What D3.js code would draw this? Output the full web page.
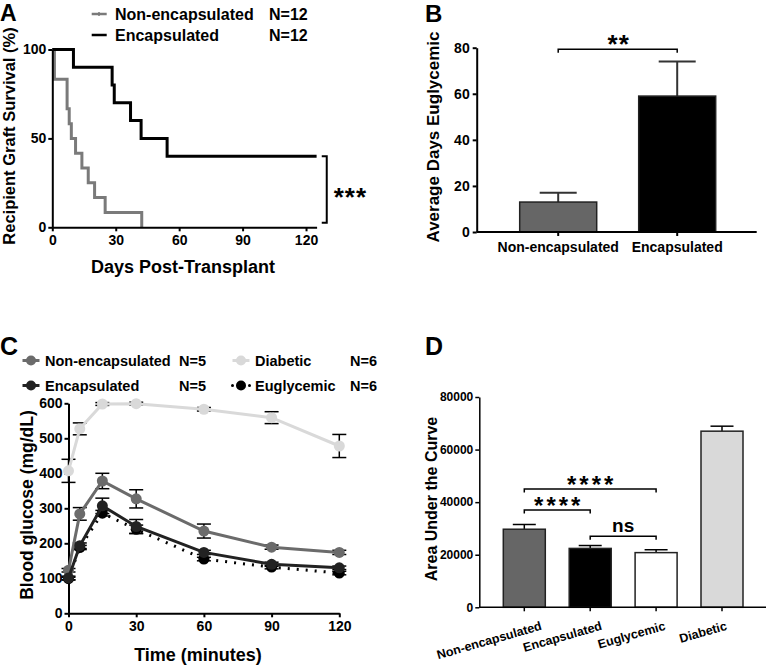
<!DOCTYPE html>
<html><head><meta charset="utf-8">
<script src="https://cdn.jsdelivr.net/npm/d3@7"></script>
<style>
body{margin:0;background:#fff;}
svg text{font-family:"Liberation Sans",Arial,Helvetica,sans-serif;font-weight:bold;fill:#000;}
</style></head><body>
<svg id="c" width="766" height="665"></svg>
<script>
// ---------- Panel A: survival ----------
const survNonEncDays = [0,1,7,8,9,11,14,17,20,25,42.3];
const survNonEncPct  = [100,83.3,66.7,58.3,50,41.7,33.3,25,16.7,8.3,0];
const survEncDays    = [0,10,28.3,29.3,37,42,54.3,125];
const survEncPct     = [100,90,80,70,60,50,40,40];
const survTicksX = [0,30,60,90,120];
const survTicksY = [0,50,100];
const survLegend = ["Non-encapsulated","Encapsulated"];
const survN = ["N=12","N=12"];
// ---------- Panel B: average days euglycemic ----------
const bCats  = ["Non-encapsulated","Encapsulated"];
const bMeans = [13,59];
const bErr   = [4,15];
const bTicks = [0,20,40,60,80];
// ---------- Panel C: glucose tolerance ----------
const gttTimes  = [0,5,15,30,60,90,120];
const gttNonEnc = [123,284,378,327,235,189,174];
const gttNonEncErr = [5,18,22,26,20,6,6];
const gttEnc    = [101,193,307,248,174,140,130];
const gttEncErr = [5,8,22,20,6,6,5];
const gttEugly  = [99,188,286,240,155,132,115];
const gttEuglyErr = [4,6,8,12,5,5,5];
const gttDiab   = [407,527,598,599,583,559,478];
const gttDiabErr = [33,17,4,4,5,17,33];
const gttTicksX = [0,30,60,90,120];
const gttTicksY = [0,100,200,300,400,500,600];
const gttNames = ["Non-encapsulated","Encapsulated","Diabetic","Euglycemic"];
const gttN = ["N=5","N=5","N=6","N=6"];
// ---------- Panel D: area under curve ----------
const dCats  = ["Non-encapsulated","Encapsulated","Euglycemic","Diabetic"];
const dMeans = [29700,22400,20800,67000];
const dErr   = [1800,1100,1100,1900];
const dTicks = [0,20000,40000,60000,80000];

const svg = d3.select("#c");
const FONT = '"Liberation Sans",Arial,Helvetica,sans-serif';

function styleAxis(g, w, fs){
  g.selectAll("path.domain").attr("stroke","#000").attr("stroke-width",w);
  g.selectAll(".tick line").attr("stroke","#000").attr("stroke-width",w);
  g.selectAll(".tick text").attr("font-family",FONT).attr("font-weight","bold").attr("font-size",fs).attr("fill","#000");
}

// ================= Panel A =================
{
  const x = d3.scaleLinear().domain([0,125]).range([52.3,316.6]);
  const y = d3.scaleLinear().domain([0,100]).range([227.3,49.5]);
  const g = svg.append("g");
  const line = d3.line().x(d=>x(d[0])).y(d=>y(d[1])).curve(d3.curveStepAfter);
  const ne = survNonEncDays.map((d,i)=>[d,survNonEncPct[i]]);
  const en = survEncDays.map((d,i)=>[d,survEncPct[i]]);
  g.append("path").attr("d",line(ne)).attr("fill","none").attr("stroke","#7a7a7a").attr("stroke-width",3);
  g.append("path").attr("d",line(en)).attr("fill","none").attr("stroke","#000").attr("stroke-width",3);
  const ax = g.append("g").attr("transform","translate(0,227.3)")
    .call(d3.axisBottom(x).tickValues(survTicksX).tickSize(4).tickSizeOuter(0).tickPadding(4));
  styleAxis(ax,2,14);
  const ay = g.append("g").attr("transform","translate(52.3,0)")
    .call(d3.axisLeft(y).tickValues(survTicksY).tickSize(4).tickSizeOuter(0).tickPadding(2));
  styleAxis(ay,2,14);
  // bracket
  const bx = x(129.8);
  g.append("path").attr("d",`M${bx-5},${y(40)}H${bx}V${y(2.5)}H${bx-5}`).attr("fill","none").attr("stroke","#000").attr("stroke-width",2);
  g.append("text").attr("x",bx+7).attr("y",y(20)+14).attr("font-size",26).attr("letter-spacing",1).text("***");
  // labels
  g.append("text").attr("x",183).attr("y",273).attr("text-anchor","middle").attr("font-size",18).text("Days Post-Transplant");
  g.append("text").attr("transform",`translate(15,136) rotate(-90)`).attr("text-anchor","middle").attr("font-size",16.5).text("Recipient Graft Survival (%)");
  g.append("text").attr("x",0).attr("y",21).attr("font-size",23).text("A");
  // legend
  const cols = ["#7a7a7a","#000"];
  [14,35].forEach((yy,i)=>{
    g.append("line").attr("x1",91.7).attr("x2",106.7).attr("y1",yy).attr("y2",yy).attr("stroke",cols[i]).attr("stroke-width",2.5);
    if(i===0) g.append("line").attr("x1",99).attr("x2",99).attr("y1",yy-2).attr("y2",yy+2).attr("stroke",cols[i]).attr("stroke-width",1.5);
    g.append("text").attr("x",115).attr("y",yy+6).attr("font-size",16).text(survLegend[i]);
    g.append("text").attr("x",269).attr("y",yy+6).attr("font-size",16).text(survN[i]);
  });
}

// ================= Panel B =================
{
  const x = d3.scaleBand().domain(bCats).range([498.7,736.7]);
  const y = d3.scaleLinear().domain([0,80]).range([232,47.7]);
  const g = svg.append("g");
  const bw = 77;
  const fills = ["#666","#000"];
  bCats.forEach((c,i)=>{
    const cx = x(c)+x.bandwidth()/2;
    g.append("line").attr("x1",cx).attr("x2",cx).attr("y1",y(bMeans[i])).attr("y2",y(bMeans[i]+bErr[i])).attr("stroke","#333").attr("stroke-width",2);
    g.append("line").attr("x1",cx-18.5).attr("x2",cx+18.5).attr("y1",y(bMeans[i]+bErr[i])).attr("y2",y(bMeans[i]+bErr[i])).attr("stroke","#333").attr("stroke-width",2);
    g.append("rect").attr("x",cx-bw/2).attr("y",y(bMeans[i])).attr("width",bw).attr("height",y(0)-y(bMeans[i]))
      .attr("fill",fills[i]).attr("stroke","#222").attr("stroke-width",1.5);
  });
  const ax = g.append("g").attr("transform","translate(0,232)")
    .call(d3.axisBottom(x).tickSize(4).tickSizeOuter(0).tickPadding(6));
  ax.select("path.domain").remove();
  styleAxis(ax,2,14);
  g.append("line").attr("x1",476.7).attr("x2",756.7).attr("y1",232).attr("y2",232).attr("stroke","#000").attr("stroke-width",2);
  const ay = g.append("g").attr("transform","translate(476.7,0)")
    .call(d3.axisLeft(y).tickValues(bTicks).tickSize(4).tickSizeOuter(0).tickPadding(3));
  styleAxis(ay,2,14);
  // bracket
  const c0 = x(bCats[0])+x.bandwidth()/2, c1 = x(bCats[1])+x.bandwidth()/2;
  const by = y(79.3);
  g.append("path").attr("d",`M${c0},${by+3.5}V${by}H${c1}V${by+3.5}`).attr("fill","none").attr("stroke","#000").attr("stroke-width",1.5);
  g.append("text").attr("x",(c0+c1)/2+1).attr("y",by+4).attr("text-anchor","middle").attr("font-size",26).attr("letter-spacing",1).text("**");
  g.append("text").attr("transform",`translate(439,137) rotate(-90)`).attr("text-anchor","middle").attr("font-size",17).text("Average Days Euglycemic");
  g.append("text").attr("x",425).attr("y",22).attr("font-size",24).text("B");
}

// ================= Panel C =================
{
  const x = d3.scaleLinear().domain([0,120]).range([68.5,339.3]);
  const y = d3.scaleLinear().domain([0,600]).range([613.3,403.3]);
  const g = svg.append("g");
  const series = [
    {v:gttDiab, e:gttDiabErr, col:"#d9d9d9", mk:"#d9d9d9", dash:null},
    {v:gttEugly, e:gttEuglyErr, col:"#000", mk:"#000", dash:"2,7"},
    {v:gttNonEnc, e:gttNonEncErr, col:"#6b6b6b", mk:"#6b6b6b", dash:null},
    {v:gttEnc, e:gttEncErr, col:"#222", mk:"#222", dash:null}
  ];
  const ax = g.append("g").attr("transform","translate(0,613.3)")
    .call(d3.axisBottom(x).tickValues(gttTicksX).tickSize(4).tickSizeOuter(0).tickPadding(4));
  styleAxis(ax,2,14);
  const ay = g.append("g").attr("transform","translate(68.5,0)")
    .call(d3.axisLeft(y).tickValues(gttTicksY).tickSize(4).tickSizeOuter(0).tickPadding(2));
  styleAxis(ay,2,14);
  const line = d3.line().x((d,i)=>x(gttTimes[i])).y(d=>y(d));
  // error bars (behind)
  series.forEach(s=>{
    s.v.forEach((v,i)=>{
      const cx = x(gttTimes[i]);
      g.append("line").attr("x1",cx).attr("x2",cx).attr("y1",y(v-s.e[i])).attr("y2",y(v+s.e[i])).attr("stroke","#000").attr("stroke-width",1.5);
      [v-s.e[i],v+s.e[i]].forEach(w=>g.append("line").attr("x1",cx-7).attr("x2",cx+7).attr("y1",y(w)).attr("y2",y(w)).attr("stroke","#000").attr("stroke-width",1.5));
    });
  });
  series.forEach(s=>{
    const p = g.append("path").attr("d",line(s.v)).attr("fill","none").attr("stroke",s.col).attr("stroke-width",3);
    if(s.dash) p.attr("stroke-dasharray",s.dash);
    s.v.forEach((v,i)=>g.append("circle").attr("cx",x(gttTimes[i])).attr("cy",y(v)).attr("r",5.5).attr("fill",s.mk));
  });
  g.append("text").attr("x",198).attr("y",661).attr("text-anchor","middle").attr("font-size",18).text("Time (minutes)");
  g.append("text").attr("transform",`translate(33,505) rotate(-90)`).attr("text-anchor","middle").attr("font-size",17.5).text("Blood glucose (mg/dL)");
  g.append("text").attr("x",0).attr("y",355).attr("font-size",25).text("C");
  // legend
  const leg = [
    {sx:31, y:360.5, col:"#6b6b6b", tx:45, nx:179, name:gttNames[0], n:gttN[0], dots:false},
    {sx:31, y:385.5, col:"#222", tx:45, nx:179, name:gttNames[1], n:gttN[1], dots:false},
    {sx:241, y:360.5, col:"#d9d9d9", tx:255, nx:350, name:gttNames[2], n:gttN[2], dots:false},
    {sx:241, y:385.5, col:"#000", tx:255, nx:350, name:gttNames[3], n:gttN[3], dots:true}
  ];
  leg.forEach(l=>{
    if(l.dots){
      [l.sx-8.5,l.sx+8.5].forEach(dx=>g.append("circle").attr("cx",dx).attr("cy",l.y).attr("r",1.5).attr("fill","#000"));
    } else {
      g.append("line").attr("x1",l.sx-8.5).attr("x2",l.sx+8.5).attr("y1",l.y).attr("y2",l.y).attr("stroke",l.col).attr("stroke-width",3);
    }
    g.append("circle").attr("cx",l.sx).attr("cy",l.y).attr("r",5).attr("fill",l.col);
    g.append("text").attr("x",l.tx).attr("y",l.y+5.5).attr("font-size",14.5).text(l.name);
    g.append("text").attr("x",l.nx).attr("y",l.y+5.5).attr("font-size",14.5).text(l.n);
  });
}

// ================= Panel D =================
{
  const x = d3.scaleBand().domain(dCats).range([491.35,754.95]);
  const y = d3.scaleLinear().domain([0,80000]).range([607.3,397]);
  const g = svg.append("g");
  const bw = 42;
  const fills = ["#666","#000","#fff","#d9d9d9"];
  const cx = c=>x(c)+x.bandwidth()/2;
  dCats.forEach((c,i)=>{
    const xc = cx(c);
    g.append("line").attr("x1",xc).attr("x2",xc).attr("y1",y(dMeans[i])).attr("y2",y(dMeans[i]+dErr[i])).attr("stroke","#000").attr("stroke-width",1.5);
    g.append("line").attr("x1",xc-11.5).attr("x2",xc+11.5).attr("y1",y(dMeans[i]+dErr[i])).attr("y2",y(dMeans[i]+dErr[i])).attr("stroke","#000").attr("stroke-width",1.5);
    g.append("rect").attr("x",xc-bw/2).attr("y",y(dMeans[i])).attr("width",bw).attr("height",y(0)-y(dMeans[i]))
      .attr("fill",fills[i]).attr("stroke","#222").attr("stroke-width",1.5);
  });
  const ax = g.append("g").attr("transform","translate(0,607.3)")
    .call(d3.axisBottom(x).tickSize(4).tickSizeOuter(0).tickFormat(""));
  ax.select("path.domain").remove();
  styleAxis(ax,1.5,12);
  g.append("line").attr("x1",479.3).attr("x2",766).attr("y1",607.3).attr("y2",607.3).attr("stroke","#000").attr("stroke-width",1.5);
  const ay = g.append("g").attr("transform","translate(479.3,0)")
    .call(d3.axisLeft(y).tickValues(dTicks).tickSize(4).tickSizeOuter(0).tickPadding(2).tickFormat(d3.format("d")));
  styleAxis(ay,1.5,12);
  // rotated category labels
  dCats.forEach(c=>{
    const t = g.append("text").attr("font-size",12.5).attr("text-anchor","end").text(c);
    const L = t.node().getComputedTextLength();
    t.attr("transform",`translate(${cx(c)+0.21*L-4.6},629.5) rotate(-16)`);
  });
  // significance brackets
  const brackets = [
    {a:0,b:2,v:45000,label:"****",ns:false},
    {a:0,b:1,v:37000,label:"****",ns:false},
    {a:1,b:2,v:27000,label:"ns",ns:true}
  ];
  brackets.forEach(br=>{
    const x0 = cx(dCats[br.a]), x1 = cx(dCats[br.b]), yy = y(br.v);
    g.append("path").attr("d",`M${x0},${yy+3.5}V${yy}H${x1}V${yy+3.5}`).attr("fill","none").attr("stroke","#000").attr("stroke-width",1.5);
    const t = g.append("text").attr("x",(x0+x1)/2).attr("text-anchor","middle").text(br.label);
    if(br.ns) t.attr("y",yy-4).attr("font-size",19).attr("font-weight","normal");
    else t.attr("x",(x0+x1)/2+1.5).attr("y",yy+4).attr("font-size",24).attr("font-weight","normal").attr("letter-spacing",3);
  });
  g.append("text").attr("transform",`translate(437,499) rotate(-90)`).attr("text-anchor","middle").attr("font-size",16).text("Area Under the Curve");
  g.append("text").attr("x",425).attr("y",355).attr("font-size",25).text("D");
}
</script>
</body></html>
